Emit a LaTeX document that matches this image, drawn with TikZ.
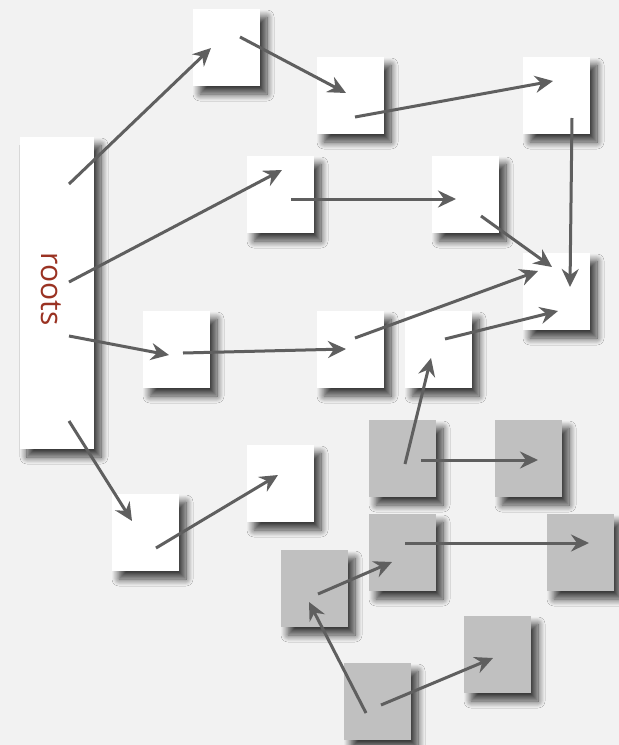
\documentclass[tikz,border=0pt]{standalone}
\usepackage{fontspec}
\setmainfont{Open Sans}
\usetikzlibrary{arrows.meta,shadows.blur}
\definecolor{bg}{HTML}{F2F2F2}
\definecolor{arrc}{HTML}{5F5F5F}
\definecolor{graybox}{HTML}{C0C0C0}
\definecolor{rootred}{HTML}{9A3222}
\tikzset{
  box/.style={minimum width=67pt,minimum height=77pt,inner sep=0pt,fill=white,
    blur shadow={shadow xshift=7pt,shadow yshift=-8pt,shadow blur radius=7pt,shadow opacity=75,shadow blur steps=10}},
  gbox/.style={box,fill=graybox},
  arr/.style={draw=arrc,line width=3pt,-{Stealth[length=18pt,width=17pt,inset=6pt]}}
}
\begin{document}
\begin{tikzpicture}[x=1pt,y=-1pt]
\fill[bg] (0,0) rectangle (619,745);
\useasboundingbox (0,0) rectangle (619,745);
% roots
\node[box,minimum width=74pt,minimum height=312pt] (R) at (57,293) {};
\node[text=rootred,rotate=-90,font=\fontsize{30}{30}\selectfont,inner sep=0pt] (rt) at (51,289) {roots};
% white boxes
\node[box] (A) at (226.5,47.5) {};
\node[box] (B) at (350.5,95.5) {};
\node[box] (C) at (556.5,95.5) {};
\node[box] (D) at (280.5,194.5) {};
\node[box] (E) at (465.5,194.5) {};
\node[box] (F) at (556.5,291.5) {};
\node[box] (G) at (176.5,349.5) {};
\node[box] (H) at (350.5,349.5) {};
\node[box] (I) at (438.5,349.5) {};
\node[box] (J) at (280.5,483.5) {};
\node[box] (K) at (145.5,532.5) {};
% gray boxes
\node[gbox] (L1) at (402.5,458.5) {};
\node[gbox] (L2) at (528.5,458.5) {};
\node[gbox] (L3) at (402.5,552.5) {};
\node[gbox] (L4) at (580.5,552.5) {};
\node[gbox] (L5) at (314.5,588.5) {};
\node[gbox] (L6) at (497.5,654.5) {};
\node[gbox] (L7) at (377.5,701.5) {};
% arrows
\draw[arr] ([shift={(12,-109)}]R.center) -- ([shift={(-15.5,0.5)}]A.center);
\draw[arr] ([shift={(13.5,-10.5)}]A.center) -- ([shift={(-4.5,-2.5)}]B.center);
\draw[arr] ([shift={(4.5,21.5)}]B.center) -- ([shift={(-3.5,-14.5)}]C.center);
\draw[arr] ([shift={(15.5,22.5)}]C.center) -- ([shift={(13.5,-4.5)}]F.center);
\draw[arr] ([shift={(12,-11)}]R.center) -- ([shift={(1.5,-24.5)}]D.center);
\draw[arr] ([shift={(10.5,4.5)}]D.center) -- ([shift={(-9.5,4.5)}]E.center);
\draw[arr] ([shift={(15.5,21.5)}]E.center) -- ([shift={(-4.5,-24.5)}]F.center);
\draw[arr] ([shift={(12,43)}]R.center) -- ([shift={(-7.5,5.5)}]G.center);
\draw[arr] ([shift={(6.5,3.5)}]G.center) -- ([shift={(-4.5,-0.5)}]H.center);
\draw[arr] ([shift={(4.5,-11.5)}]H.center) -- ([shift={(-18.5,-20.5)}]F.center);
\draw[arr] ([shift={(6.5,-10.5)}]I.center) -- ([shift={(1.5,19.5)}]F.center);
\draw[arr] ([shift={(12,128)}]R.center) -- ([shift={(-13.5,-11.5)}]K.center);
\draw[arr] ([shift={(10.5,15.5)}]K.center) -- ([shift={(-2.5,-8.5)}]J.center);
\draw[arr] ([shift={(2.5,5.5)}]L1.center) -- ([shift={(-7.5,8.5)}]I.center);
\draw[arr] ([shift={(18.5,1.5)}]L1.center) -- ([shift={(9.5,1.5)}]L2.center);
\draw[arr] ([shift={(2.5,-9.5)}]L3.center) -- ([shift={(8.5,-9.5)}]L4.center);
\draw[arr] ([shift={(3.5,5.5)}]L5.center) -- ([shift={(-10.5,9.5)}]L3.center);
\draw[arr] ([shift={(-11.5,11.5)}]L7.center) -- ([shift={(-5.5,13.5)}]L5.center);
\draw[arr] ([shift={(3.5,3.5)}]L7.center) -- ([shift={(-4.5,3.5)}]L6.center);
\end{tikzpicture}
\end{document}
